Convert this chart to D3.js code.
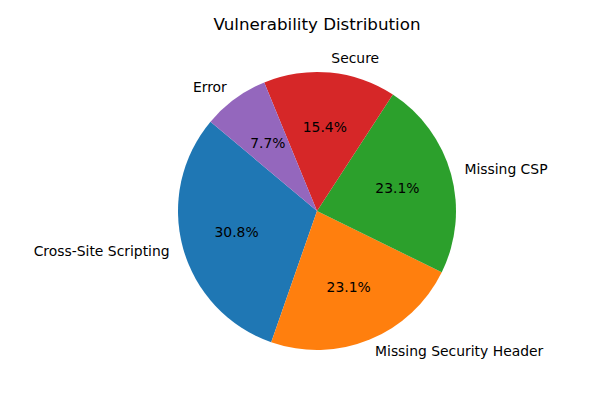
<!DOCTYPE html>
<html>
<head>
<meta charset="utf-8">
<script src="https://cdn.jsdelivr.net/npm/d3@7"></script>
<style>
  body { margin: 0; background: #fff; }
  text { font-family: "DejaVu Sans", sans-serif; }
</style>
</head>
<body>
<script>
const width = 600, height = 400
const cx = 317, cy = 211, radius = 139

const categories = ["Cross-Site Scripting", "Missing Security Header", "Missing CSP", "Secure", "Error"]
const counts = [4, 3, 3, 2, 1]
const colors = ["#1f77b4", "#ff7f0e", "#2ca02c", "#d62728", "#9467bd"]
const startDeg = 140  // matplotlib startangle, counterclockwise

const svg = d3.select("body").append("svg")
    .attr("width", width)
    .attr("height", height)

svg.append("text")
    .attr("x", cx)
    .attr("y", 29.5)
    .attr("text-anchor", "middle")
    .attr("font-size", "16.7px")
    .text("Vulnerability Distribution")

const g = svg.append("g").attr("transform", `translate(${cx},${cy})`)

const rad = d => d * Math.PI / 180
const a0 = rad(90 - startDeg)
const pie = d3.pie().sort(null).startAngle(a0).endAngle(a0 - 2 * Math.PI)
const arcs = pie(counts)
const total = d3.sum(counts)

const arc = d3.arc().innerRadius(0).outerRadius(radius)

g.selectAll(".slice").data(arcs).enter()
    .append("path")
    .attr("class", "slice")
    .attr("d", arc)
    .attr("fill", (d, i) => colors[i])

function pos(d, r) {
    const m = (d.startAngle + d.endAngle) / 2
    return [Math.sin(m) * r, -Math.cos(m) * r]
}

// outer labels
g.selectAll(".label").data(arcs).enter()
    .append("text")
    .attr("class", "label")
    .attr("x", d => pos(d, radius * 1.1)[0])
    .attr("y", d => pos(d, radius * 1.1)[1])
    .attr("text-anchor", d => pos(d, 1)[0] < 0 ? "end" : "start")
    .attr("dominant-baseline", "middle")
    .attr("font-size", "13.9px")
    .text((d, i) => categories[i])

// percentages
g.selectAll(".pct").data(arcs).enter()
    .append("text")
    .attr("class", "pct")
    .attr("x", d => pos(d, radius * 0.6)[0])
    .attr("y", d => pos(d, radius * 0.6)[1])
    .attr("text-anchor", "middle")
    .attr("dominant-baseline", "middle")
    .attr("font-size", "13.9px")
    .text(d => (d.data / total * 100).toFixed(1) + "%")
</script>
</body>
</html>
